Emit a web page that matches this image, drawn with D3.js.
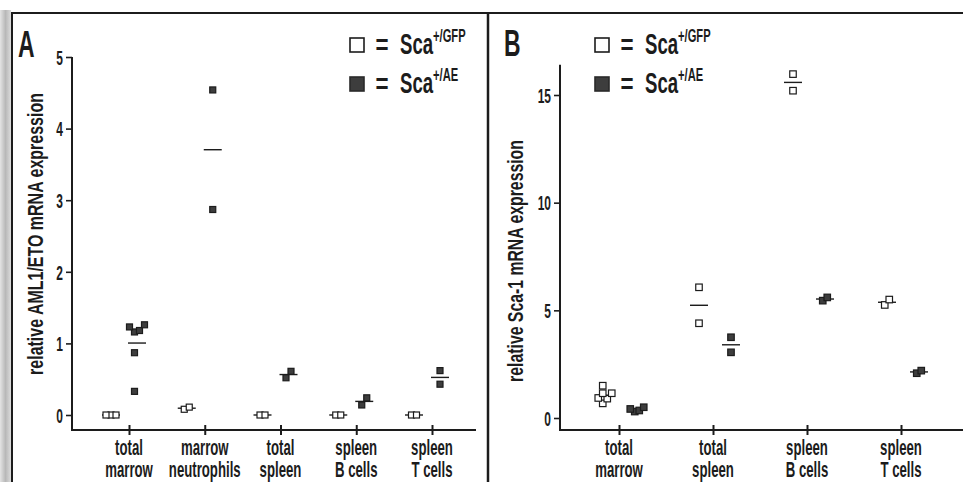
<!DOCTYPE html>
<html>
<head>
<meta charset="utf-8">
<script src="https://cdn.jsdelivr.net/npm/d3@7.9.0/dist/d3.min.js"></script>
<style>
  html, body { margin: 0; padding: 0; background: #fff; }
  svg { display: block; font-family: "Liberation Sans", Arial, sans-serif; font-weight: bold; }
</style>
</head>
<body>
<div id="chart"></div>
<script>
// panel A: AML1/ETO expression
const categoriesA = [['total', 'marrow'], ['marrow', 'neutrophils'], ['total', 'spleen'], ['spleen', 'B cells'], ['spleen', 'T cells']];
const gfpA = [[0, 0, 0], [0.08, 0.11], [0, 0], [0, 0], [0, 0]];
const aeA = [[1.26, 1.23, 1.18, 1.16, 0.87, 0.33], [4.54, 2.87], [0.61, 0.52], [0.24, 0.14], [0.62, 0.43]];
const ticksA = [0, 1, 2, 3, 4, 5];

// panel B: Sca-1 expression
const categoriesB = [['total', 'marrow'], ['total', 'spleen'], ['spleen', 'B cells'], ['spleen', 'T cells']];
const gfpB = [[1.5, 1.15, 1.15, 0.93, 0.9, 0.68], [6.07, 4.4], [15.97, 15.2], [5.5, 5.25]];
const aeB = [[0.5, 0.42, 0.35, 0.3], [3.75, 3.05], [5.6, 5.45], [2.2, 2.08]];
const ticksB = [0, 5, 10, 15];

const legendLabels = ['+/GFP', '+/AE'];

const width = 963;
const height = 482;
const ink = '#1c1c1c';
const fillDark = '#3d3d3d';
const SX = 0.6; // squeeze to imitate the condensed typeface

const svg = d3.select('#chart')
    .append('svg')
    .attr('width', width)
    .attr('height', height);

// scan edge on the left
const grad = svg.append('defs').append('linearGradient').attr('id', 'edge');
grad.append('stop').attr('offset', '0%').attr('stop-color', '#e4e4e4');
grad.append('stop').attr('offset', '50%').attr('stop-color', '#b8b8b8');
grad.append('stop').attr('offset', '100%').attr('stop-color', '#dcdcdc');
svg.append('rect').attr('x', 0).attr('y', 10).attr('width', 11).attr('height', height - 10).attr('fill', 'url(#edge)');

// frame
svg.append('path')
    .attr('d', `M12,${height} V13 H${width}`)
    .attr('fill', 'none').attr('stroke', ink).attr('stroke-width', 2);
svg.append('line')
    .attr('x1', 488).attr('x2', 488).attr('y1', 13).attr('y2', height)
    .attr('stroke', ink).attr('stroke-width', 2.5);

function ctext(g, str, x, y, size, sx, anchor) {
    return g.append('text')
        .attr('transform', `translate(${x},${y}) scale(${sx},1)`)
        .attr('text-anchor', anchor || 'start')
        .attr('fill', ink)
        .style('font-size', size + 'px')
        .text(str);
}

// simple deterministic swarm so overlapping squares sit side by side
function swarm(values, y, step, gap) {
    const pts = values.map(v => ({ v, py: y(v) })).sort((a, b) => a.v - b.v);
    const placed = [];
    pts.forEach(p => {
        for (const k of [0, 1, -1, 2, -2, 3, -3]) {
            const dx = k * step;
            const hit = placed.some(q => Math.abs(q.dx - dx) < step * 0.9 && Math.abs(q.py - p.py) < gap);
            if (!hit) { p.dx = dx; break; }
        }
        placed.push(p);
    });
    const [lo, hi] = d3.extent(placed, d => d.dx);
    placed.forEach(d => d.dx -= (lo + hi) / 2);
    return placed;
}

function drawLegend(g, x, y) {
    const rows = [{ fill: '#fff', label: legendLabels[0] }, { fill: fillDark, label: legendLabels[1] }];
    rows.forEach((r, i) => {
        const cy = y + i * 39;
        g.append('rect')
            .attr('x', x).attr('y', cy - 7)
            .attr('width', 14).attr('height', 14)
            .attr('fill', r.fill)
            .attr('stroke', i ? '#2a2a2a' : ink)
            .attr('stroke-width', 1.6);
        ctext(g, '=', x + 32, cy + 9, 28, 0.8, 'middle');
        const t = ctext(g, 'Sca', x + 50, cy + 9, 30, 0.62, 'start');
        t.append('tspan')
            .attr('dy', -12)
            .style('font-size', '18px')
            .text(r.label);
    });
}

function drawPanel(cfg) {
    const g = svg.append('g');

    const y = d3.scaleLinear().domain(cfg.yDomain).range(cfg.yRange);
    const x = d3.scalePoint().domain(d3.range(cfg.categories.length)).range(cfg.catRange);

    // y axis
    const yAxis = d3.axisLeft(y).tickValues(cfg.ticks).tickFormat(d3.format('d')).tickSize(6).tickPadding(3);
    const ya = g.append('g')
        .attr('transform', `translate(${cfg.axisX},0)`)
        .call(yAxis);
    ya.select('.domain').remove();
    ya.selectAll('line').attr('stroke', ink).attr('stroke-width', 1.6);
    ya.selectAll('text')
        .attr('fill', ink)
        .style('font-size', '20px')
        .style('font-family', '"Liberation Sans", Arial, sans-serif')
        .style('font-weight', 'bold')
        .attr('transform', `scale(${SX},1)`)
        .attr('x', -9 / SX)
        .attr('dy', '0.36em');
    g.append('line')
        .attr('x1', cfg.axisX).attr('x2', cfg.axisX)
        .attr('y1', y(cfg.yAxisTop)).attr('y2', cfg.axisY + 1)
        .attr('stroke', ink).attr('stroke-width', 2);

    // x axis with cross ticks
    g.append('line')
        .attr('x1', cfg.axisX).attr('x2', cfg.xRight)
        .attr('y1', cfg.axisY).attr('y2', cfg.axisY)
        .attr('stroke', ink).attr('stroke-width', 2.2);
    const xa = g.append('g')
        .attr('transform', `translate(0,${cfg.axisY})`)
        .call(d3.axisBottom(x).tickSize(5).tickFormat(''));
    xa.select('.domain').remove();
    xa.selectAll('.tick line').attr('y1', -5).attr('stroke', ink).attr('stroke-width', 2);

    cfg.categories.forEach((lines, i) => {
        lines.forEach((s, j) => {
            ctext(g, s, x(i), 455 + j * 22, 22, SX, 'middle');
        });
    });

    // axis title, squeezed to the measured length
    const title = g.append('text')
        .attr('text-anchor', 'middle')
        .attr('fill', ink)
        .style('font-size', '22px')
        .text(cfg.title.text);
    const natural = title.node().getComputedTextLength();
    title.attr('transform', `translate(${cfg.title.x},${cfg.title.y}) rotate(-90) scale(${cfg.title.len / natural},1)`);

    // panel letter
    ctext(g, cfg.letter.text, cfg.letter.x, cfg.letter.y, 37, 0.62, 'start');

    drawLegend(g, cfg.legend.x, cfg.legend.y);

    // points and mean lines
    const groups = [];
    cfg.gfp.forEach((vals, i) => groups.push({ vals, cx: x(i) + cfg.gfpOff, open: true }));
    cfg.ae.forEach((vals, i) => groups.push({ vals, cx: x(i) + cfg.aeOff, open: false }));

    groups.forEach(grp => {
        const pts = swarm(grp.vals, y, cfg.step, 7.5);
        g.append('line')
            .attr('x1', grp.cx - 9).attr('x2', grp.cx + 9)
            .attr('y1', y(d3.mean(grp.vals))).attr('y2', y(d3.mean(grp.vals)))
            .attr('stroke', ink).attr('stroke-width', 1.4);
        g.append('g')
            .selectAll('rect')
            .data(pts)
            .join('rect')
            .attr('x', d => grp.cx + d.dx - cfg.size / 2)
            .attr('y', d => d.py - cfg.size / 2)
            .attr('width', cfg.size)
            .attr('height', cfg.size)
            .attr('fill', grp.open ? '#fff' : fillDark)
            .attr('stroke', ink)
            .attr('stroke-width', 1.2);
    });
}

drawPanel({
    categories: categoriesA, gfp: gfpA, ae: aeA, ticks: ticksA,
    yDomain: [0, 5], yRange: [415, 57], yAxisTop: 5,
    axisX: 72, xRight: 476, axisY: 430,
    catRange: [129, 432], gfpOff: -18, aeOff: 8, size: 6, step: 5,
    title: { text: 'relative AML1/ETO mRNA expression', x: 43, y: 234, len: 282 },
    letter: { text: 'A', x: 18, y: 57 },
    legend: { x: 350, y: 45 },
});

drawPanel({
    categories: categoriesB, gfp: gfpB, ae: aeB, ticks: ticksB,
    yDomain: [0, 15], yRange: [418, 95], yAxisTop: 16.4,
    axisX: 560, xRight: width, axisY: 430,
    catRange: [619, 901], gfpOff: -14, aeOff: 18, size: 6.5, step: 4.5,
    title: { text: 'relative Sca-1 mRNA expression', x: 523, y: 261, len: 242 },
    letter: { text: 'B', x: 504, y: 56 },
    legend: { x: 595, y: 45 },
});
</script>
</body>
</html>
